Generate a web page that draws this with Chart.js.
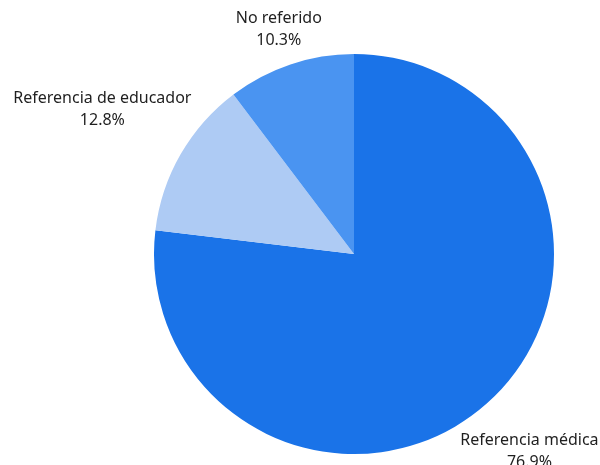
<!DOCTYPE html>
<html>
<head>
<meta charset="utf-8">
<script src="https://cdn.jsdelivr.net/npm/chart.js@4"></script>
<style>
  html, body { margin: 0; padding: 0; background: #fff; }
  #wrap { width: 600px; height: 465px; }
</style>
</head>
<body>
<div id="wrap"><canvas id="myChart" width="600" height="465"></canvas></div>
<script>
// Categories and shares (%)
const labels = ['Referencia médica', 'Referencia de educador', 'No referido'];
const values = [76.9, 12.8, 10.3];
const colors = ['#1a73e8', '#aecbf4', '#4a94f1'];

const FONT = '16px "Noto Sans", sans-serif';
const LINE = 22;

// Writes "name / percent" outside each slice; the text box sits on the
// slice's middle ray, just clear of the rim
const outsideLabels = {
  id: 'outsideLabels',
  afterDatasetsDraw(chart) {
    const ctx = chart.ctx;
    const meta = chart.getDatasetMeta(0);
    ctx.save();
    ctx.font = FONT;
    ctx.fillStyle = '#1f1f1f';
    ctx.textAlign = 'center';
    ctx.textBaseline = 'middle';
    meta.data.forEach((arc, i) => {
      const p = arc.getProps(['x', 'y', 'startAngle', 'endAngle', 'outerRadius']);
      const mid = (p.startAngle + p.endAngle) / 2;
      const dx = Math.cos(mid), dy = Math.sin(mid);
      const line1 = labels[i];
      const line2 = values[i].toFixed(1) + '%';
      const w = Math.max(ctx.measureText(line1).width, ctx.measureText(line2).width);
      const h = LINE * 2;
      const dist = p.outerRadius + 2 + Math.abs(dx) * w / 2 + Math.abs(dy) * h / 2;
      const cx = p.x + dx * dist;
      const cy = p.y + dy * dist;
      ctx.fillText(line1, cx, cy - LINE / 2);
      ctx.fillText(line2, cx, cy + LINE / 2);
    });
    ctx.restore();
  }
};

const data = {
  labels: labels,
  datasets: [{
    data: values,
    backgroundColor: colors,
    borderWidth: 0
  }]
};

const config = {
  type: 'pie',
  data: data,
  options: {
    responsive: false,
    animation: false,
    layout: {
      padding: { left: 154, right: 46, top: 54, bottom: 11 }
    },
    plugins: {
      legend: { display: false },
      tooltip: { enabled: false }
    }
  },
  plugins: [outsideLabels]
};

const myChart = new Chart(document.getElementById('myChart'), config);
</script>
</body>
</html>
